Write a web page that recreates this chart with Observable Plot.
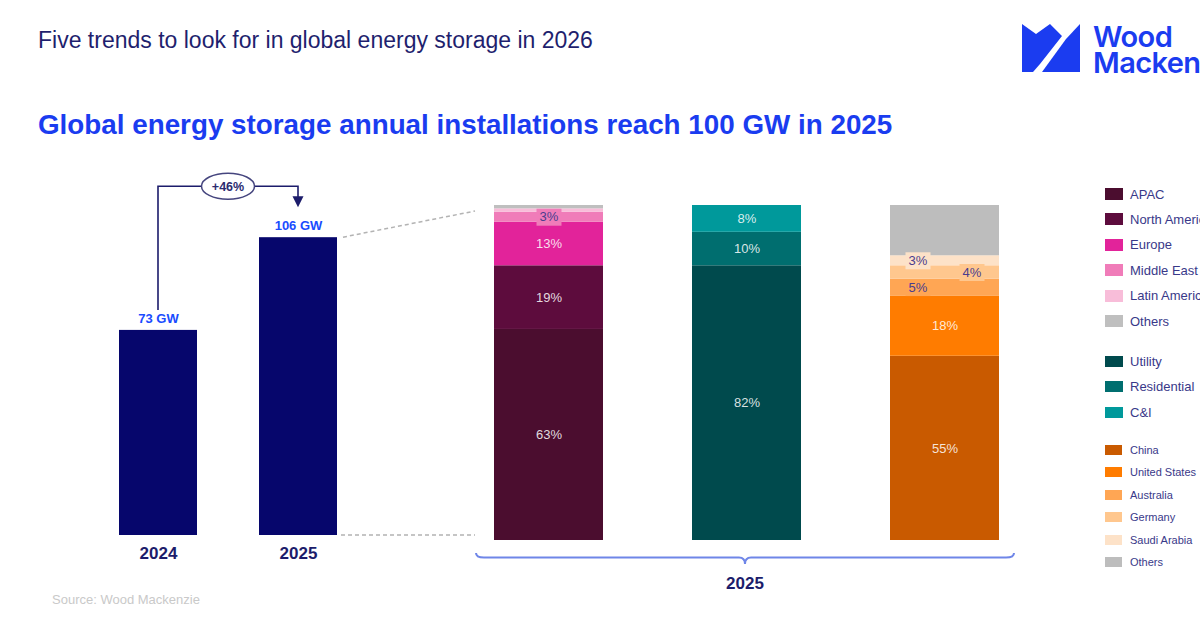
<!DOCTYPE html>
<html>
<head>
<meta charset="utf-8">
<script src="https://cdn.jsdelivr.net/npm/d3@7"></script>
<script src="https://cdn.jsdelivr.net/npm/@observablehq/plot@0.6"></script>
<style>
  html, body { margin: 0; padding: 0; background: #fff; }
  body { width: 1200px; height: 630px; overflow: hidden; position: relative;
         font-family: Arial, "Liberation Sans", sans-serif; }
  .abs { position: absolute; white-space: nowrap; }
  #kicker { left: 38px; top: 29px; font-size: 23px; line-height: 23px; color: #1f1f6e; }
  #title { left: 38px; top: 111px; font-size: 27.8px; line-height: 27.8px; font-weight: bold; color: #1a3cf0; }
  #source { left: 52px; top: 592px; font-size: 13px; line-height: 16px; color: #c9c9c9; }
  .layer { position: absolute; left: 0; top: 150px; width: 1200px; height: 440px; }
  .legend-row { position: absolute; left: 1105px; display: flex; align-items: center; white-space: nowrap; color: #393989; }
  .legend-row span.sw { display: inline-block; flex: none; }
</style>
</head>
<body>
<div id="kicker" class="abs">Five trends to look for in global energy storage in 2026</div>
<div id="title" class="abs">Global energy storage annual installations reach 100 GW in 2025</div>
<svg id="logo" class="abs" style="left:1000px;top:0" width="200" height="90" viewBox="0 0 200 90">
  <g fill="#1b3cf0" font-family="Inter, Roboto, sans-serif" font-weight="600" font-size="29" letter-spacing="-0.6">
    <path d="M22,24 L36,34 L50,24 L62,36 L40,64 L33,72 L22,72 Z"/>
    <path d="M66,39 L80,24 L80,72 L42,72 Z"/>
    <text x="93" y="47">Wood<tspan x="93" y="73">Mackenzie</tspan></text>
  </g>
</svg>
<div id="source" class="abs">Source: Wood Mackenzie</div>
<div id="left" class="layer"></div>
<div id="right" class="layer"></div>
<div id="notes" class="layer"></div>
<div id="legend"></div>

<script>
// Annual installations
const years = ["2024", "2025"];
const installsGW = [73, 106];
const growthLabel = "+46%";

// 2025 installation split, percent of total
const splitGroups = ["By region", "By segment", "By country"];

const regionNames = ["APAC", "North America", "Europe", "Middle East", "Latin America", "Others"];
const regionShare = [63, 19, 13, 3, 1, 1];

const segmentNames = ["Utility", "Residential", "C&I"];
const segmentShare = [82, 10, 8];

const countryNames = ["China", "United States", "Australia", "Germany", "Saudi Arabia", "Others"];
const countryShare = [55, 18, 5, 4, 3, 15];

// Palettes
const regionColors = ["#4b0d2f", "#5d0c3d", "#e2239a", "#f07cb9", "#f8bdd9", "#bfbfbf"];
const segmentColors = ["#004a4d", "#006e6f", "#00999b"];
const countryColors = ["#c95a00", "#ff7c00", "#ffa654", "#ffc78e", "#fde2c8", "#bdbdbd"];
const navy = "#06066c";
const ink = "#1c1c6b";

// Small shares shown as tagged labels; value is side of the bar (-1 left, 0 centre, 1 right)
const tagSide = { "Middle East": 0, "Saudi Arabia": -1, "Australia": -1, "Germany": 1 };

const gwRows = years.map((year, i) => ({ year, gw: installsGW[i] }));

const groups = [
  [regionNames, regionShare, regionColors],
  [segmentNames, segmentShare, segmentColors],
  [countryNames, countryShare, countryColors]
];
const shareRows = groups.flatMap(([names, shares, colors], g) =>
  names.map((name, i) => ({
    group: splitGroups[g], name, share: shares[i], color: colors[i],
    inside: shares[i] >= 8 && name !== "Others",
    side: name in tagSide ? tagSide[name] : null
  }))
);

const baseStyle = { background: "transparent", overflow: "visible",
                    fontFamily: "Arial, 'Liberation Sans', sans-serif" };

// Left: total installations by year
const left = Plot.plot({
  width: 1200, height: 440,
  marginTop: 31, marginBottom: 55, marginLeft: 49, marginRight: 793,
  x: { domain: years, paddingInner: 0.443, paddingOuter: 0.5, axis: null },
  y: { domain: [0, 126], axis: null },
  style: baseStyle,
  marks: [
    Plot.barY(gwRows, { x: "year", y: "gw", fill: navy }),
    Plot.text(gwRows, { x: "year", y: "gw", text: d => `${d.gw} GW`, dy: -12,
                        fill: "#1a4cff", fontWeight: "bold", fontSize: 13 }),
    Plot.axisX({ tickSize: 0, tickPadding: 11, fontSize: 17, fontWeight: "bold",
                 color: ink, label: null })
  ]
});

// Right: 2025 split as 100% stacked bars
const boxSymbol = { draw(ctx) { ctx.rect(-12.5, -8.5, 25, 17); } };
const tagMarks = [-1, 0, 1].flatMap(side => [
  Plot.dot(shareRows, Plot.stackY({
    x: "group", y: "share", dx: side * 27, r: 5, symbol: boxSymbol,
    fill: d => d.side === side ? d.color : null
  })),
  Plot.text(shareRows, Plot.stackY({
    x: "group", y: "share", dx: side * 27, fontSize: 13, fill: "#4a3d8f",
    text: d => d.side === side ? `${d.share}%` : null
  }))
]);

const right = Plot.plot({
  width: 1200, height: 440,
  marginTop: 55, marginBottom: 50, marginLeft: 449.5, marginRight: 156.5,
  x: { domain: splitGroups, paddingInner: 0.45, paddingOuter: 0.225, axis: null },
  y: { domain: [0, 100], axis: null },
  color: { type: "identity" },
  style: baseStyle,
  marks: [
    Plot.barY(shareRows, { x: "group", y: "share", fill: "color" }),
    Plot.text(shareRows, Plot.stackY({
      x: "group", y: "share", fill: "white", fillOpacity: 0.85, fontSize: 13,
      text: d => d.inside ? `${d.share}%` : null
    })),
    ...tagMarks
  ]
});

document.getElementById("left").append(left);
document.getElementById("right").append(right);

// Connectors, growth arrow and bracket, placed with the two charts' scales
const sxL = left.scale("x"), syL = left.scale("y");
const sxR = right.scale("x"), syR = right.scale("y");
const xL = k => sxL.apply(k), yL = v => syL.apply(v);
const xR = k => sxR.apply(k), yR = v => syR.apply(v);
const midL = k => xL(k) + sxL.bandwidth / 2;

const notes = d3.select("#notes").append("svg")
  .attr("width", 1200).attr("height", 440)
  .style("overflow", "visible")
  .attr("font-family", "Arial, 'Liberation Sans', sans-serif");

const xa = midL(years[0]), xb = midL(years[1]);
const level = yL(installsGW[1]) - 51;
const tip = yL(installsGW[1]) - 30;
notes.append("path")
  .attr("d", `M${xa},${yL(installsGW[0]) - 20}V${level}H${xb}V${tip - 9}`)
  .attr("fill", "none").attr("stroke", ink).attr("stroke-width", 1.6);
notes.append("path")
  .attr("d", `M${xb - 5.5},${tip - 11}L${xb + 5.5},${tip - 11}L${xb},${tip}Z`)
  .attr("fill", ink);
notes.append("ellipse")
  .attr("cx", (xa + xb) / 2).attr("cy", level).attr("rx", 26.5).attr("ry", 13)
  .attr("fill", "white").attr("stroke", "#45457e").attr("stroke-width", 1.5);
notes.append("text")
  .attr("x", (xa + xb) / 2).attr("y", level + 4.5)
  .attr("text-anchor", "middle").attr("font-size", 12.5).attr("font-weight", "bold")
  .attr("fill", "#2b2b70").text(growthLabel);

// dashed connectors from the 2025 bar to the split bars
const barEnd = xL(years[1]) + sxL.bandwidth;
const splitStart = xR(splitGroups[0]);
const dash = { stroke: "#b3b3b3", "stroke-width": 1.5, "stroke-dasharray": "4,3" };
const line1 = notes.append("line")
  .attr("x1", barEnd + 6).attr("y1", yL(installsGW[1]))
  .attr("x2", splitStart - 19).attr("y2", yR(100) + 6);
const line2 = notes.append("line")
  .attr("x1", barEnd + 4).attr("y1", yL(0))
  .attr("x2", splitStart - 19).attr("y2", yL(0));
for (const l of [line1, line2]) for (const [k, v] of Object.entries(dash)) l.attr(k, v);

// bracket under the split bars
const bx0 = splitStart - 18;
const bx1 = xR(splitGroups[2]) + sxR.bandwidth + 15;
const bc = (bx0 + bx1) / 2;
const base = yR(0);
const yEnd = base + 13, yMid = base + 17.5, yTip = base + 24;
notes.append("path")
  .attr("d", `M${bx0},${yEnd}Q${bx0},${yMid} ${bx0 + 8},${yMid}H${bc - 6}Q${bc},${yMid} ${bc},${yTip}` +
             `Q${bc},${yMid} ${bc + 6},${yMid}H${bx1 - 8}Q${bx1},${yMid} ${bx1},${yEnd}`)
  .attr("fill", "none").attr("stroke", "#6f86e8").attr("stroke-width", 2);
notes.append("text")
  .attr("x", bc).attr("y", base + 49)
  .attr("text-anchor", "middle").attr("font-size", 17).attr("font-weight", "bold")
  .attr("fill", ink).text(years[1]);

// Legend
const legendLayout = [
  { names: regionNames, colors: regionColors, first: 194, step: 25.4, font: 13, sw: [18, 12] },
  { names: segmentNames, colors: segmentColors, first: 361, step: 25.8, font: 13, sw: [18, 11] },
  { names: countryNames, colors: countryColors, first: 449.5, step: 22.5, font: 11, sw: [17, 10] }
];
const legend = document.getElementById("legend");
for (const grp of legendLayout) {
  grp.names.forEach((name, i) => {
    const row = document.createElement("div");
    row.className = "legend-row";
    const h = 16;
    row.style.top = (grp.first + i * grp.step - h / 2) + "px";
    row.style.height = h + "px";
    row.style.fontSize = grp.font + "px";
    const sw = document.createElement("span");
    sw.className = "sw";
    sw.style.width = grp.sw[0] + "px";
    sw.style.height = grp.sw[1] + "px";
    sw.style.background = grp.colors[i];
    sw.style.marginRight = (25 - grp.sw[0]) + "px";
    const label = document.createElement("span");
    label.textContent = name;
    row.append(sw, label);
    legend.append(row);
  });
}
</script>
</body>
</html>
